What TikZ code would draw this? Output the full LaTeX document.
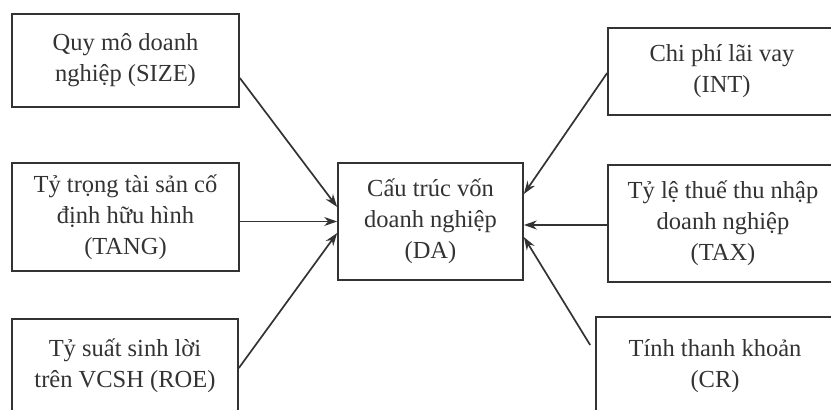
\documentclass[tikz,border=0pt]{standalone}
\usepackage{fontspec}
\setmainfont{Liberation Serif}
\usetikzlibrary{arrows.meta}
\begin{document}
\begin{tikzpicture}[x=1pt,y=-1pt,>={Stealth[length=13pt,width=9pt]},
 every node/.style={rectangle,draw=black!80,line width=1.7pt,text=black!80,align=center,font=\fontsize{24.5}{31}\selectfont}]
 \useasboundingbox (0,0) rectangle (831,410);
 \clip (0,0) rectangle (831,410);
 \node[minimum width=227pt,minimum height=93pt] (size) at (125.5,60.5) {Quy mô doanh\\nghiệp (SIZE)};
 \node[minimum width=227pt,minimum height=108pt] (tang) at (125.5,217) {Tỷ trọng tài sản cố\\định hữu hình\\(TANG)};
 \node[minimum width=226pt,minimum height=94pt] (roe) at (125,366) {Tỷ suất sinh lời\\trên VCSH (ROE)};
 \node[minimum width=185pt,minimum height=117pt] (da) at (430.5,221.5) {Cấu trúc vốn\\doanh nghiệp\\(DA)};
 \node[minimum width=228pt,minimum height=87pt] (int) at (722,71.5) {Chi phí lãi vay\\(INT)};
 \node[minimum width=230pt,minimum height=117pt] (tax) at (723,223.5) {Tỷ lệ thuế thu nhập\\doanh nghiệp\\(TAX)};
 \node[minimum width=238pt,minimum height=98pt] (cr) at (715,366) {Tính thanh khoản\\(CR)};

 \foreach \from/\fx/\fy/\to/\ty in
{size.east/0/-17.5/da.west/14.5,tang.east/0/-4.5/da.west/0,roe.east/0/-2/da.west/-11.5,
 int.west/0/-1.5/da.east/27.5,tax.west/0/-1.5/da.east/-3.5,cr.west/-5/21/da.east/-15.5}
\draw [->,line width=1.7pt,black!80] ([xshift=\fx pt,yshift=\fy pt]\from) -- ([yshift=\ty pt]\to);
\end{tikzpicture}
\end{document}
